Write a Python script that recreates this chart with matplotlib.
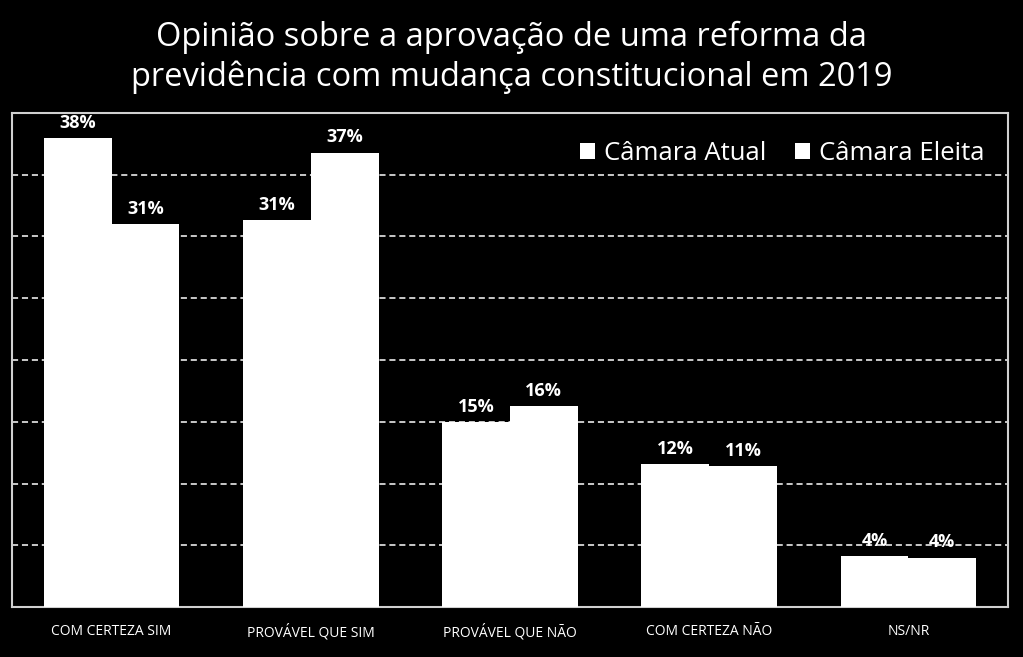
import numpy as np
import matplotlib
matplotlib.use("Agg")
import matplotlib.pyplot as plt

categories = ["COM CERTEZA SIM", "PROVÁVEL QUE SIM", "PROVÁVEL QUE NÃO", "COM CERTEZA NÃO", "NS/NR"]
atual = [38.0, 31.3, 15.0, 11.6, 4.1]
eleita = [31.0, 36.8, 16.3, 11.4, 4.0]
series_names = ["Câmara Atual", "Câmara Eleita"]

plt.rcParams['font.family'] = ['Open Sans', 'DejaVu Sans']

fig = plt.figure(figsize=(10.23, 6.57), dpi=100, facecolor="black")
ax = fig.add_axes([12 / 1023, 50 / 657, 996 / 1023, 494 / 657])
ax.set_facecolor("black")

x = np.arange(len(categories))
w = 0.34
b1 = ax.bar(x - w / 2, atual, w, color="white", label=series_names[0], zorder=3)
b2 = ax.bar(x + w / 2, eleita, w, color="white", label=series_names[1], zorder=3)

# value labels over the bars
for bars, vals in [(b1, atual), (b2, eleita)]:
    for r, v in zip(bars, vals):
        ax.text(r.get_x() + r.get_width() / 2, v + 0.5, f"{round(v)}%", ha="center", va="bottom",
                color="white", fontsize=13, fontweight="bold", zorder=4)

ax.set_xlim(-0.5, 4.5)
ax.set_ylim(0, 40)
ax.set_yticks(np.arange(5, 40, 5))
ax.yaxis.grid(True, color="white", linestyle=(0, (4, 2.5)), linewidth=1.1, zorder=1)
ax.tick_params(axis="y", left=False, labelleft=False)
ax.tick_params(axis="x", length=0, colors="white", labelsize=10, pad=12)
ax.set_xticks(x)
ax.set_xticklabels(categories)
for s in ax.spines.values():
    s.set_color("#d0d0d0")
    s.set_linewidth(1.5)

ax.legend(loc="upper right", ncol=2, frameon=False, fontsize=18.5, labelcolor="white",
          handlelength=0.6, handleheight=0.6, handletextpad=0.35, columnspacing=1.1,
          bbox_to_anchor=(1.0, 0.99))

fig.text(0.5, 0.968, "Opinião sobre a aprovação de uma reforma da\nprevidência com mudança constitucional em 2019",
         ha="center", va="top", color="white", fontsize=23.5, linespacing=1.25)

fig.savefig("out.png", dpi=100, facecolor="black")
